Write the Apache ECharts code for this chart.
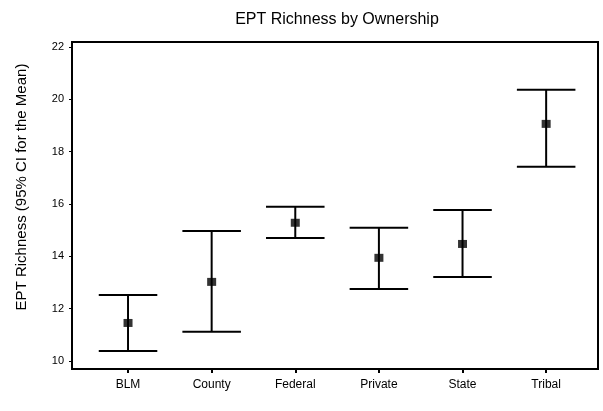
<!DOCTYPE html>
<html>
<head>
<meta charset="utf-8">
<script src="https://cdn.jsdelivr.net/npm/echarts@6/dist/echarts.min.js"></script>
<style>
  html, body { margin: 0; padding: 0; background: #fff; }
  #chart { width: 603px; height: 411px; }
</style>
</head>
<body>
<div id="chart"></div>
<script>
// Ownership groups, in plotting order
const categories = ['BLM', 'County', 'Federal', 'Private', 'State', 'Tribal'];
// Mean EPT richness per group and its 95% confidence limits
const means = [11.45, 13.02, 15.28, 13.94, 14.47, 19.06];
const lowerCI = [10.38, 11.11, 14.70, 12.75, 13.21, 17.42];
const upperCI = [12.52, 14.97, 15.89, 15.09, 15.77, 20.36];
// Y-axis tick values
const yTicks = [10, 12, 14, 16, 18, 20, 22];
const yTitle = 'EPT Richness (95% CI for the Mean)';

const positions = categories.map((_, i) => i + 1);
const intervalData = categories.map((_, i) => [i + 1, lowerCI[i], upperCI[i]]);
const meanData = categories.map((_, i) => [i + 1, means[i]]);

const chart = echarts.init(document.getElementById('chart'), null, { renderer: 'canvas' });

const font = 'Liberation Sans, Arial, sans-serif';
const capHalf = 0.35; // whisker half-width in x units

chart.setOption({
  animation: false,
  backgroundColor: '#fff',
  title: {
    text: 'EPT Richness by Ownership',
    left: 332, textAlign: 'center', top: 7,
    textStyle: { fontFamily: font, fontSize: 16, fontWeight: 'normal', color: '#000' }
  },
  graphic: [{
    type: 'text',
    x: 22, y: 187, rotation: Math.PI / 2,
    style: {
      text: yTitle, fontFamily: font, fontSize: 15, fill: '#000',
      align: 'center', verticalAlign: 'middle'
    }
  }],
  grid: {
    left: 72, right: 5, top: 42, bottom: 42,
    show: true, borderColor: '#000', borderWidth: 2, backgroundColor: '#fff'
  },
  xAxis: {
    type: 'value', min: 0.33, max: 6.62,
    splitLine: { show: false },
    axisLine: { show: true, lineStyle: { color: '#000', width: 2 } },
    axisTick: { show: true, customValues: positions, length: 4, lineStyle: { color: '#000', width: 2 } },
    axisLabel: {
      customValues: positions, margin: 10,
      fontFamily: font, fontSize: 12, color: '#000',
      formatter: v => categories[Math.round(v) - 1]
    }
  },
  yAxis: {
    type: 'value', min: 9.69, max: 22.19,
    splitLine: { show: false },
    axisLine: { show: true, lineStyle: { color: '#000', width: 2 } },
    axisTick: { show: true, customValues: yTicks, length: 3, lineStyle: { color: '#000', width: 1 } },
    axisLabel: { customValues: yTicks, margin: 8, fontFamily: font, fontSize: 11, color: '#000' }
  },
  series: [
    {
      type: 'custom',
      data: intervalData,
      encode: { x: 0, y: [1, 2] },
      renderItem: (params, api) => {
        const x = api.value(0);
        const lo = api.coord([x, api.value(1)]);
        const hi = api.coord([x, api.value(2)]);
        const loL = api.coord([x - capHalf, api.value(1)]);
        const loR = api.coord([x + capHalf, api.value(1)]);
        const hiL = api.coord([x - capHalf, api.value(2)]);
        const hiR = api.coord([x + capHalf, api.value(2)]);
        const style = { stroke: '#000', lineWidth: 2 };
        return {
          type: 'group',
          children: [
            { type: 'line', shape: { x1: lo[0], y1: lo[1], x2: hi[0], y2: hi[1] }, style },
            { type: 'line', shape: { x1: loL[0], y1: loL[1], x2: loR[0], y2: loR[1] }, style },
            { type: 'line', shape: { x1: hiL[0], y1: hiL[1], x2: hiR[0], y2: hiR[1] }, style }
          ]
        };
      }
    },
    {
      type: 'scatter',
      data: meanData,
      symbol: 'rect',
      symbolSize: [9, 8],
      itemStyle: { color: '#000' },
      z: 5
    }
  ]
});
</script>
</body>
</html>
